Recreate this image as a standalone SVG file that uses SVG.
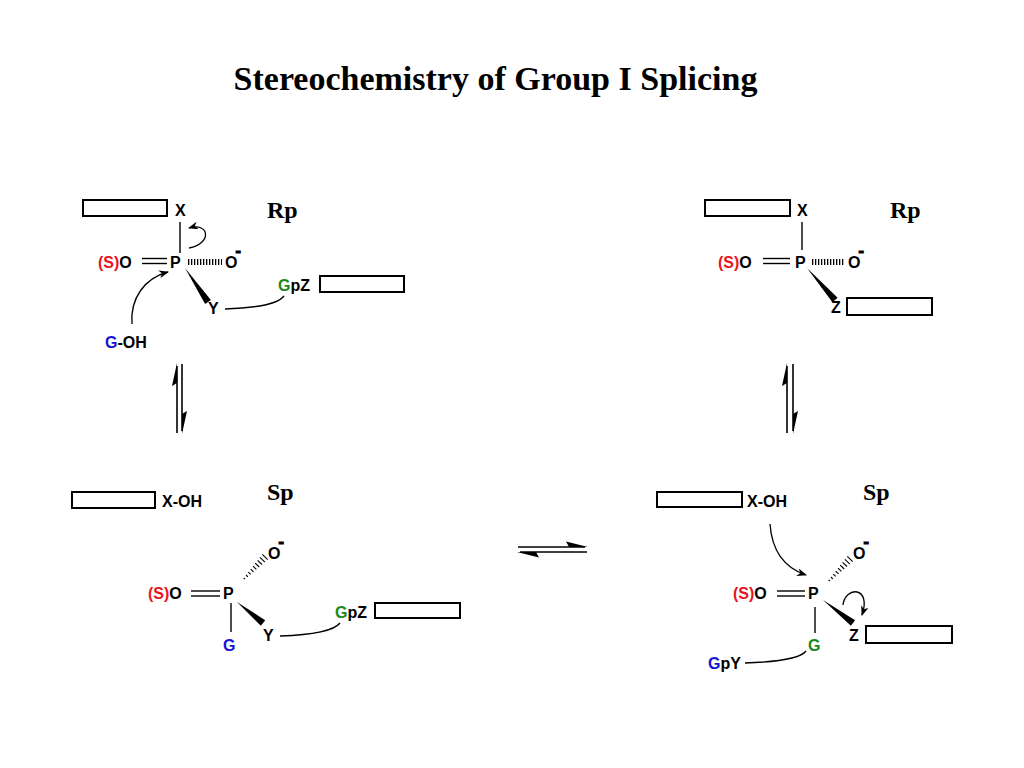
<svg xmlns="http://www.w3.org/2000/svg" xmlns:xlink="http://www.w3.org/1999/xlink" width="1024" height="768" viewBox="0 0 1024 768">
<style>
.t{font-family:"Liberation Sans",Arial,sans-serif;font-weight:bold;font-size:16px;fill:#000}
.m{stroke:#000;stroke-width:1.2}
.h{font-family:"Liberation Serif","Times New Roman",serif;font-weight:bold;fill:#000}
.red{fill:#e8141c}.grn{fill:#1a8a1a}.blu{fill:#1414d2}
.box{fill:#fff;stroke:#000;stroke-width:2}
.b{stroke:#000;stroke-width:1.4;fill:none}
.hash{stroke:#000;stroke-width:6;stroke-dasharray:1.3 1.7;fill:none}
.hw{stroke:#000;stroke-width:1.1}
.arr{stroke:#000;stroke-width:1.3;fill:none;marker-end:url(#ah)}
.eq{stroke:#000;stroke-width:1.6}
</style>
<defs>
<marker id="ah" viewBox="0 0 10 8" refX="9" refY="4" markerWidth="10" markerHeight="8" markerUnits="userSpaceOnUse" orient="auto">
<path d="M0,0 L10,4 L0,8 L3,4 z" fill="#000"/>
</marker>
<g id="hw">
<line class="hw" x1="243.6" y1="578.0" x2="245.0" y2="579.2"/>
<line class="hw" x1="246.0" y1="575.0" x2="247.8" y2="576.8"/>
<line class="hw" x1="248.3" y1="572.1" x2="250.7" y2="574.3"/>
<line class="hw" x1="250.7" y1="569.1" x2="253.5" y2="571.9"/>
<line class="hw" x1="253.0" y1="566.2" x2="256.4" y2="569.4"/>
<line class="hw" x1="255.2" y1="563.2" x2="259.2" y2="567.0"/>
<line class="hw" x1="257.6" y1="560.3" x2="262.0" y2="564.5"/>
<line class="hw" x1="259.9" y1="557.3" x2="264.9" y2="562.1"/>
<line class="hw" x1="262.3" y1="554.4" x2="267.7" y2="559.6"/>
</g>
</defs>
<rect width="1024" height="768" fill="#fff"/>
<text id="title" class="h" x="495.5" y="90" font-size="34" text-anchor="middle">Stereochemistry of Group I Splicing</text>

<g id="rp-top-left">
<rect class="box" x="83" y="200" width="84" height="16"/>
<text class="t" x="175" y="216">X</text>
<text class="h" x="267" y="218" font-size="24">Rp</text>
<line class="b" x1="180" y1="222" x2="180" y2="253"/>
<path class="arr" d="M189 248 C212 244,210 222,189 228"/>
<text class="t" x="98" y="268"><tspan class="red">(S)</tspan>O</text>
<line class="b" x1="142" y1="258.5" x2="167" y2="258.5"/>
<line class="b" x1="142" y1="263.5" x2="167" y2="263.5"/>
<text class="t" x="170" y="268">P</text>
<line class="hash" x1="188" y1="262" x2="222" y2="262"/>
<text class="t" x="225" y="268">O<tspan class="m" dx="-2" dy="-12">-</tspan></text>
<polygon points="185,268 210.9,300 205.1,304" fill="#000"/>
<text class="t" x="208" y="314">Y</text>
<path class="b" d="M225 309 C255 308,278 304,284 296"/>
<text class="t" x="278" y="291"><tspan class="grn">G</tspan>pZ</text>
<rect class="box" x="320" y="276" width="84" height="16"/>
<path class="arr" d="M132 324 C130 298,145 278,168 272"/>
<text class="t" x="105" y="348"><tspan class="blu">G</tspan>-OH</text>
</g>

<g id="rp-top-right">
<rect class="box" x="705" y="200" width="85" height="16"/>
<text class="t" x="797" y="216">X</text>
<text class="h" x="890" y="218" font-size="24">Rp</text>
<line class="b" x1="802" y1="222" x2="802" y2="250"/>
<text class="t" x="718" y="268"><tspan class="red">(S)</tspan>O</text>
<line class="b" x1="763" y1="258.5" x2="790" y2="258.5"/>
<line class="b" x1="763" y1="263.5" x2="790" y2="263.5"/>
<text class="t" x="795" y="268">P</text>
<line class="hash" x1="812" y1="262" x2="845" y2="262"/>
<text class="t" x="848" y="268">O<tspan class="m" dx="-2" dy="-12">-</tspan></text>
<polygon points="807,268 837.6,297.7 832.4,302.3" fill="#000"/>
<text class="t" x="831" y="313">Z</text>
<rect class="box" x="847" y="298" width="85" height="17"/>
</g>

<g id="sp-bottom-left">
<rect class="box" x="72" y="492" width="83" height="16"/>
<text class="t" x="162" y="507">X-OH</text>
<text class="h" x="267" y="500" font-size="24">Sp</text>
<use xlink:href="#hw"/>
<text class="t" x="268" y="559">O<tspan class="m" dx="-2" dy="-12">-</tspan></text>
<text class="t" x="148" y="599"><tspan class="red">(S)</tspan>O</text>
<line class="b" x1="191" y1="591" x2="220" y2="591"/>
<line class="b" x1="191" y1="596" x2="220" y2="596"/>
<text class="t" x="223" y="599">P</text>
<line class="b" x1="231" y1="603" x2="231" y2="632"/>
<text class="t blu" x="223" y="651">G</text>
<polygon points="237,602 265.2,620.3 260.8,625.7" fill="#000"/>
<text class="t" x="263" y="641">Y</text>
<path class="b" d="M280 636 C310 635,333 632,340 623"/>
<text class="t" x="335" y="618"><tspan class="grn">G</tspan>pZ</text>
<rect class="box" x="375" y="603" width="85" height="15"/>
</g>

<g id="sp-bottom-right">
<rect class="box" x="657" y="492" width="85" height="15"/>
<text class="t" x="747" y="507">X-OH</text>
<text class="h" x="863" y="500" font-size="24">Sp</text>
<path class="arr" d="M770 524 C772 552,785 568,806 575"/>
<use xlink:href="#hw" transform="translate(585,2)"/>
<text class="t" x="853" y="559">O<tspan class="m" dx="-2" dy="-12">-</tspan></text>
<text class="t" x="733" y="599"><tspan class="red">(S)</tspan>O</text>
<line class="b" x1="777" y1="591" x2="805" y2="591"/>
<line class="b" x1="777" y1="596" x2="805" y2="596"/>
<text class="t" x="808" y="599">P</text>
<line class="b" x1="815" y1="607" x2="815" y2="633"/>
<text class="t grn" x="808" y="651">G</text>
<polygon points="823,600 855.1,620.2 850.9,625.8" fill="#000"/>
<path class="arr" d="M843 605 C845 586,872 586,862 615"/>
<text class="t" x="849" y="641">Z</text>
<rect class="box" x="866" y="626" width="86" height="17"/>
<path class="b" d="M745 663 C775 662,800 659,806 651"/>
<text class="t" x="708" y="669"><tspan class="blu">G</tspan>pY</text>
</g>

<g id="connectors">
<g id="eq-left">
<line class="eq" x1="177" y1="366" x2="177" y2="433"/>
<polygon points="177,363 172,386 177,383"/>
<line class="eq" x1="182" y1="364" x2="182" y2="431"/>
<polygon points="182,434 187,411 182,414"/>
</g>
<g id="eq-right">
<line class="eq" x1="787" y1="366" x2="787" y2="433"/>
<polygon points="787,363 782,386 787,383"/>
<line class="eq" x1="793" y1="364" x2="793" y2="431"/>
<polygon points="793,434 798,411 793,414"/>
</g>
<g id="eq-bottom">
<line class="eq" x1="518" y1="547" x2="585" y2="547"/>
<polygon points="588,547 566,541.5 569,547"/>
<line class="eq" x1="520" y1="552" x2="587" y2="552"/>
<polygon points="517,552 539,557.5 536,552"/>
</g>
</g>
</svg>
